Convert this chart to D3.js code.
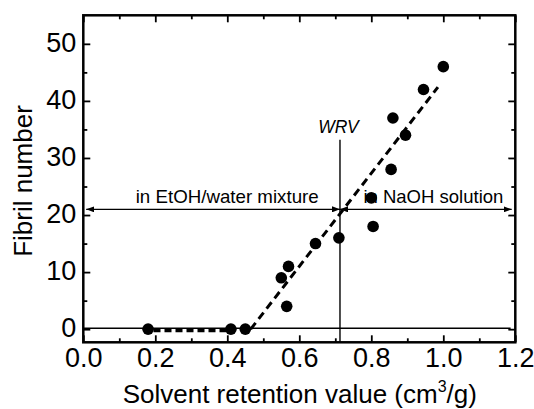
<!DOCTYPE html>
<html>
<head>
<meta charset="utf-8">
<script src="https://cdn.jsdelivr.net/npm/d3@7"></script>
<style>
  body { margin: 0; background: #fff; }
  svg text { font-family: "Liberation Sans", Arial, sans-serif; fill: #000; }
</style>
</head>
<body>
<svg id="chart" width="534" height="409"></svg>
<script>
// measured points
var srv = [0.18, 0.41, 0.45, 0.55, 0.57, 0.565, 0.645, 0.71, 0.80, 0.805, 0.855, 0.86, 0.895, 0.945, 1.0];
var fibrils = [0, 0, 0, 9, 11, 4, 15, 16, 23, 18, 28, 37, 34, 42, 46];

// dashed guide lines
var flatX = [0.195, 0.40];
var flatY = [-0.25, -0.25];
var fitX = [0.465, 0.985];
var fitY = [0, 42.4];

// reference lines
var wrvX = 0.713;
var wrvTop = 33.2;
var splitY = 21;
var splitLeft = 0.008;
var splitRight = 1.19;
var baseY = 0.15;

var xTicks = [0.0, 0.2, 0.4, 0.6, 0.8, 1.0, 1.2];
var xMinor = [0.1, 0.3, 0.5, 0.7, 0.9, 1.1];
var yTicks = [0, 10, 20, 30, 40, 50];
var yMinor = [5, 15, 25, 35, 45];

var svg = d3.select("#chart");
var pLeft = 83.3, pRight = 515.3, pTop = 15.3, pBottom = 342.3;

var x = d3.scaleLinear().domain([0, 1.2]).range([pLeft, pRight]);
var y = d3.scaleLinear().domain([-2.3, 55]).range([pBottom, pTop]);

// arrow head
var defs = svg.append("defs");
defs.append("marker")
  .attr("id", "arrow")
  .attr("markerUnits", "userSpaceOnUse")
  .attr("markerWidth", 8).attr("markerHeight", 6)
  .attr("refX", 8).attr("refY", 3)
  .attr("orient", "auto-start-reverse")
  .append("path").attr("d", "M0,0L8,3L0,6Z").attr("fill", "#000");

// thin reference lines
svg.append("line")
  .attr("x1", x(0)).attr("x2", x(1.187))
  .attr("y1", y(baseY)).attr("y2", y(baseY))
  .attr("stroke", "#000").attr("stroke-width", 1.4);

svg.append("line")
  .attr("x1", x(wrvX)).attr("x2", x(wrvX))
  .attr("y1", y(wrvTop)).attr("y2", pBottom)
  .attr("stroke", "#000").attr("stroke-width", 1.4);

[[splitLeft, wrvX], [wrvX, splitRight]].forEach(function(s) {
  svg.append("line")
    .attr("x1", x(s[0])).attr("x2", x(s[1]))
    .attr("y1", y(splitY)).attr("y2", y(splitY))
    .attr("stroke", "#000").attr("stroke-width", 1.4)
    .attr("marker-start", "url(#arrow)")
    .attr("marker-end", "url(#arrow)");
});

// dashed fit
var line = d3.line().x(function(d) { return x(d[0]); }).y(function(d) { return y(d[1]); });
svg.append("path")
  .attr("d", line(d3.zip(flatX, flatY)))
  .attr("fill", "none").attr("stroke", "#000").attr("stroke-width", 3.2)
  .attr("stroke-dasharray", "7,4");
svg.append("path")
  .attr("d", line(d3.zip(fitX, fitY)))
  .attr("fill", "none").attr("stroke", "#000").attr("stroke-width", 3)
  .attr("stroke-dasharray", "8,5");

// points
svg.append("g").selectAll("circle")
  .data(d3.zip(srv, fibrils))
  .join("circle")
  .attr("cx", function(d) { return x(d[0]); })
  .attr("cy", function(d) { return y(d[1]); })
  .attr("r", 5.8)
  .attr("fill", "#000");

// annotations
svg.append("text")
  .attr("x", x(0.709)).attr("y", y(34.4))
  .attr("text-anchor", "middle")
  .style("font-size", "17.5px").style("font-style", "italic")
  .text("WRV");
svg.append("text")
  .attr("x", x(0.1456)).attr("y", y(22.06))
  .attr("textLength", 183).attr("lengthAdjust", "spacingAndGlyphs")
  .style("font-size", "19px")
  .text("in EtOH/water mixture");
svg.append("text")
  .attr("x", x(0.778)).attr("y", y(22.06))
  .attr("textLength", 140).attr("lengthAdjust", "spacingAndGlyphs")
  .style("font-size", "19px")
  .text("in NaOH solution");

// axes
function styleAxis(g) {
  g.select(".domain").remove();
  g.selectAll(".tick line").attr("stroke", "#000").attr("stroke-width", 1.8);
  g.selectAll("text").style("font-size", "27px").attr("fill", "#000");
}

svg.append("g").attr("transform", "translate(0," + pBottom + ")")
  .call(d3.axisBottom(x).tickValues(xTicks).tickFormat(d3.format(".1f")).tickSize(-7).tickPadding(6))
  .call(styleAxis);
svg.append("g").attr("transform", "translate(0," + pBottom + ")")
  .call(d3.axisBottom(x).tickValues(xMinor).tickFormat("").tickSize(-4))
  .call(styleAxis);
svg.append("g").attr("transform", "translate(0," + pTop + ")")
  .call(d3.axisTop(x).tickValues(xTicks).tickFormat("").tickSize(-7))
  .call(styleAxis);
svg.append("g").attr("transform", "translate(0," + pTop + ")")
  .call(d3.axisTop(x).tickValues(xMinor).tickFormat("").tickSize(-4))
  .call(styleAxis);

svg.append("g").attr("transform", "translate(" + pLeft + ",0)")
  .call(d3.axisLeft(y).tickValues(yTicks).tickFormat(d3.format("d")).tickSize(-7).tickPadding(7))
  .call(styleAxis)
  .selectAll("text").attr("dy", "0.27em");
svg.append("g").attr("transform", "translate(" + pLeft + ",0)")
  .call(d3.axisLeft(y).tickValues(yMinor).tickFormat("").tickSize(-4))
  .call(styleAxis);
svg.append("g").attr("transform", "translate(" + pRight + ",0)")
  .call(d3.axisRight(y).tickValues(yTicks).tickFormat("").tickSize(-7))
  .call(styleAxis);
svg.append("g").attr("transform", "translate(" + pRight + ",0)")
  .call(d3.axisRight(y).tickValues(yMinor).tickFormat("").tickSize(-4))
  .call(styleAxis);

// frame
svg.append("rect")
  .attr("x", pLeft).attr("y", pTop)
  .attr("width", pRight - pLeft).attr("height", pBottom - pTop)
  .attr("fill", "none").attr("stroke", "#000").attr("stroke-width", 2.5);

// axis titles
var xt = svg.append("text")
  .attr("x", (pLeft + pRight) / 2 + 0.5).attr("y", 403)
  .attr("text-anchor", "middle")
  .style("font-size", "26px");
xt.append("tspan").text("Solvent retention value (cm");
xt.append("tspan").attr("dy", -11).style("font-size", "16px").text("3");
xt.append("tspan").attr("dy", 11).text("/g)");

svg.append("text")
  .attr("transform", "translate(31.5,181) rotate(-90)")
  .attr("text-anchor", "middle")
  .style("font-size", "26px")
  .text("Fibril number");
</script>
</body>
</html>
